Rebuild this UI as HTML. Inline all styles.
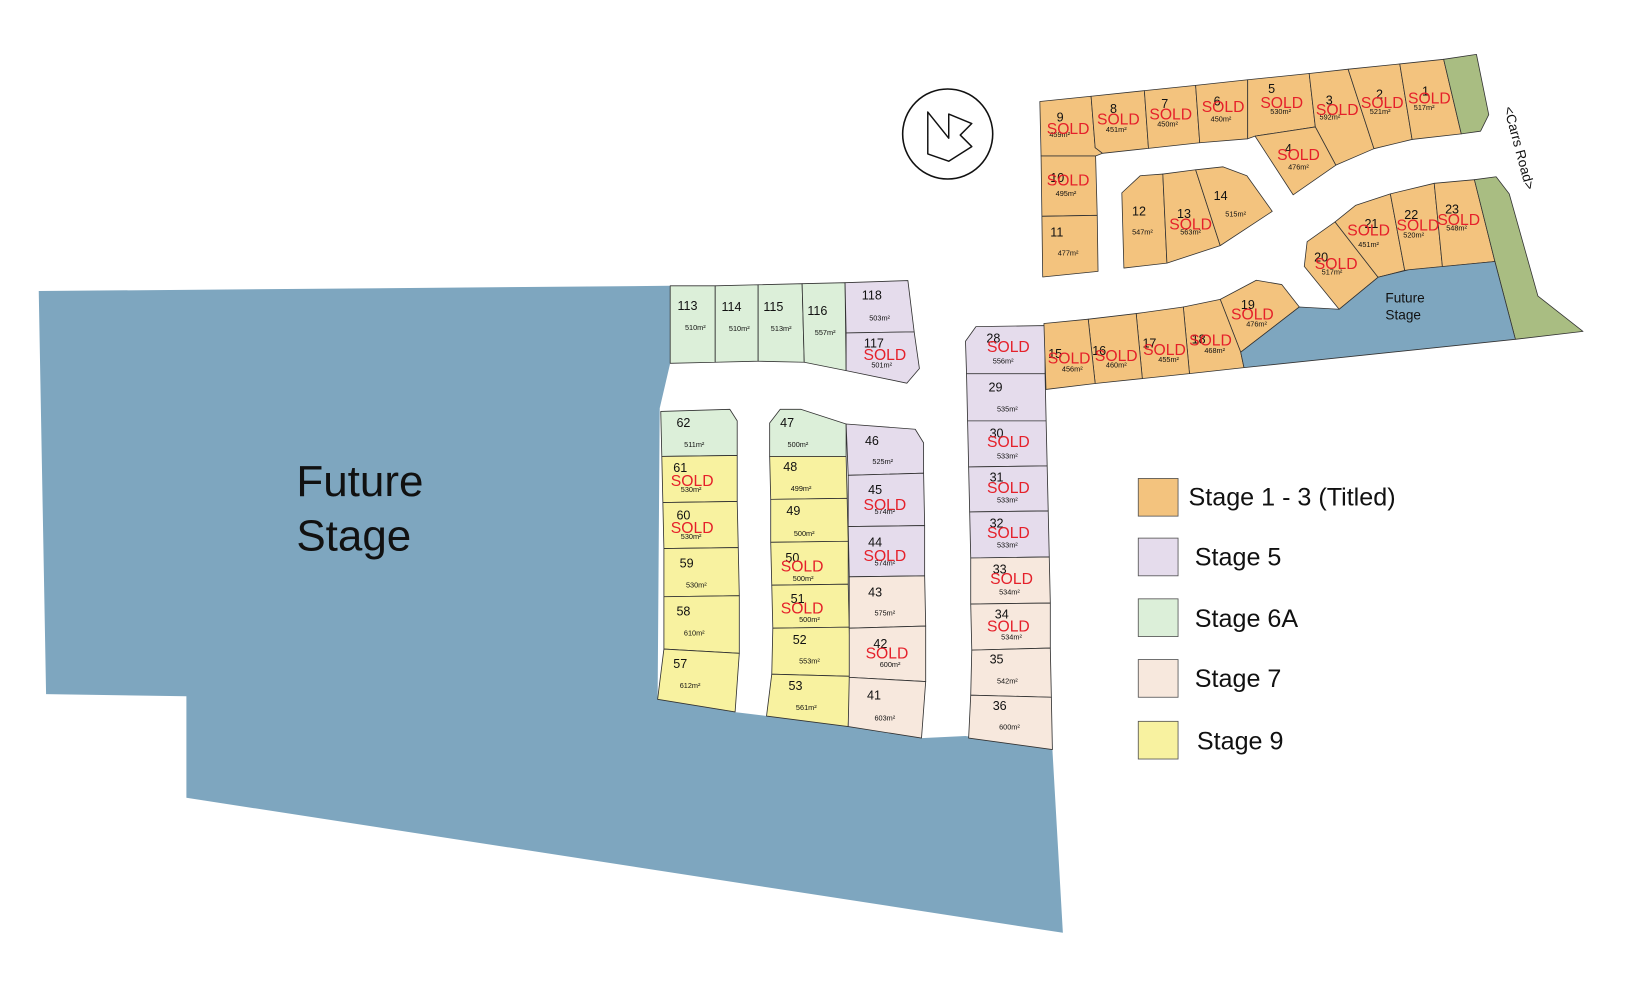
<!DOCTYPE html>
<html><head><meta charset="utf-8"><style>
html,body{margin:0;padding:0;background:#fff;}
svg{display:block;}
text{font-family:"Liberation Sans",sans-serif;}
.n{font-size:12px;fill:#111;}
.a{font-size:7px;fill:#111;text-anchor:middle;}
.s{font-size:15px;fill:#e5202a;text-anchor:middle;}
.L{font-size:24px;fill:#111;}
</style></head><body>
<svg width="1643" height="1004" viewBox="0 0 1569 959" preserveAspectRatio="none" xmlns="http://www.w3.org/2000/svg">
<g stroke="#333" stroke-width="0.8" stroke-linejoin="round">
<polygon fill="#7ea6bf" stroke="none" points="37,278 640,273 640,347 630,390 628,668 700,680 733,684 810,694 880,705 922,703 1005,716 1015,891 178,762 178,665 44,663"/>
<polygon fill="#dcefd9" points="640,273 683,273 683,346 640,347"/>
<polygon fill="#dcefd9" points="683,273 724,272 724,345 683,346"/>
<polygon fill="#dcefd9" points="724,272 766,271 768,346 724,345"/>
<polygon fill="#dcefd9" points="766,271 807,270 808,354 768,346"/>
<polygon fill="#e5dcec" points="807,270 867,268 873,317 808,318"/>
<polygon fill="#e5dcec" points="808,318 873,317 878,352 866,366 808,354"/>
<polygon fill="#dcefd9" points="631,393 697,391 704,402 704,435 632,436"/>
<polygon fill="#f8f2a0" points="632,436 704,435 704,479 633,480"/>
<polygon fill="#f8f2a0" points="633,480 704,479 705,523 634,524"/>
<polygon fill="#f8f2a0" points="634,524 705,523 706,569 634,570"/>
<polygon fill="#f8f2a0" points="634,570 706,569 706,624 634,620"/>
<polygon fill="#f8f2a0" points="634,620 706,624 702,680 628,668"/>
<polygon fill="#dcefd9" points="735,404 745,391 765,391 808,405 808,436 735,436"/>
<polygon fill="#f8f2a0" points="735,436 808,436 809,476 736,477"/>
<polygon fill="#f8f2a0" points="736,477 809,476 810,517 736,518"/>
<polygon fill="#f8f2a0" points="736,518 810,517 810,558 737,559"/>
<polygon fill="#f8f2a0" points="737,559 810,558 811,599 738,600"/>
<polygon fill="#f8f2a0" points="738,600 811,599 812,646 737,644"/>
<polygon fill="#f8f2a0" points="737,644 812,646 810,694 732,684"/>
<polygon fill="#e5dcec" points="808,405 874,410 882,423 882,452 810,454"/>
<polygon fill="#e5dcec" points="810,454 882,452 883,502 810,503"/>
<polygon fill="#e5dcec" points="810,503 883,502 883,550 811,551"/>
<polygon fill="#f7e8dd" points="811,551 883,550 884,598 811,600"/>
<polygon fill="#f7e8dd" points="811,600 884,598 884,651 811,647"/>
<polygon fill="#f7e8dd" points="811,647 884,651 880,705 810,694"/>
<polygon fill="#e5dcec" points="922,326 932,312 998,311 998,357 923,357"/>
<polygon fill="#e5dcec" points="923,357 998,357 999,402 924,402"/>
<polygon fill="#e5dcec" points="924,402 999,402 1000,445 925,446"/>
<polygon fill="#e5dcec" points="925,446 1000,445 1001,488 926,489"/>
<polygon fill="#e5dcec" points="926,489 1001,488 1002,532 927,533"/>
<polygon fill="#f7e8dd" points="927,533 1002,532 1003,576 927,577"/>
<polygon fill="#f7e8dd" points="927,577 1003,576 1003,619 928,621"/>
<polygon fill="#f7e8dd" points="928,621 1003,619 1004,666 927,664"/>
<polygon fill="#f7e8dd" points="927,664 1004,666 1005,716 925,705"/>
</g>
<g transform="matrix(0.3915 0 0 0.315 953.85 38.7)" stroke="#333" stroke-width="0.8" stroke-linejoin="round">
<g fill="#f3c37e">
<polygon vector-effect="non-scaling-stroke" points="100,185 225,169 235,325 253,342 236,350 103,350"/>
<polygon vector-effect="non-scaling-stroke" points="225,169 355,152 365,327 253,342 235,325"/>
<polygon vector-effect="non-scaling-stroke" points="355,152 480,136 490,310 365,327"/>
<polygon vector-effect="non-scaling-stroke" points="480,136 607,119 607,298 490,310"/>
<polygon vector-effect="non-scaling-stroke" points="607,119 757,100 772,262 625,290 607,298"/>
<polygon vector-effect="non-scaling-stroke" points="757,100 852,87 915,328 822,378 772,262"/>
<polygon vector-effect="non-scaling-stroke" points="852,87 978,71 1008,300 915,328"/>
<polygon vector-effect="non-scaling-stroke" points="978,71 1085,57 1128,283 1008,300"/>
<polygon vector-effect="non-scaling-stroke" points="625,290 772,262 822,378 718,468"/>
<polygon vector-effect="non-scaling-stroke" points="103,350 236,350 240,530 105,533"/>
<polygon vector-effect="non-scaling-stroke" points="105,533 240,530 242,700 107,717"/>
<polygon vector-effect="non-scaling-stroke" points="300,462 345,410 400,405 410,675 305,690"/>
<polygon vector-effect="non-scaling-stroke" points="400,405 480,392 540,622 410,675"/>
<polygon vector-effect="non-scaling-stroke" points="480,392 547,383 605,410 667,518 540,622"/>
<polygon vector-effect="non-scaling-stroke" points="745,685 752,610 820,550 925,718 830,815"/>
<polygon vector-effect="non-scaling-stroke" points="820,550 870,500 955,465 990,697 925,718"/>
<polygon vector-effect="non-scaling-stroke" points="955,465 1062,433 1082,686 990,697"/>
<polygon vector-effect="non-scaling-stroke" points="1062,433 1160,422 1210,670 1082,686"/>
<polygon vector-effect="non-scaling-stroke" points="540,785 628,727 690,740 733,808 590,945"/>
<polygon vector-effect="non-scaling-stroke" points="450,808 540,785 590,945 598,992 465,1010"/>
<polygon vector-effect="non-scaling-stroke" points="335,828 450,808 465,1010 350,1025"/>
<polygon vector-effect="non-scaling-stroke" points="218,845 335,828 350,1025 235,1040"/>
<polygon vector-effect="non-scaling-stroke" points="110,858 218,845 235,1040 115,1058"/>
</g>
<polygon fill="#a9bd82" vector-effect="non-scaling-stroke" points="1085,57 1165,42 1195,225 1175,275 1128,283"/>
<polygon fill="#a9bd82" vector-effect="non-scaling-stroke" points="1160,422 1213,413 1245,465 1315,775 1425,882 1260,906 1210,670"/>
<polygon fill="#7ea6bf" vector-effect="non-scaling-stroke" points="590,945 733,808 830,815 925,718 1000,695 1210,670 1260,906 598,992"/>
</g>
<circle cx="905" cy="128" r="43" fill="#fff" stroke="#111" stroke-width="1.5"/>
<path d="M886,147 L886,107 L906,132 L906,109 L928,118 L917,129 L928,140 L906,154 Z" fill="none" stroke="#111" stroke-width="1.4" stroke-linejoin="round"/>
<text x="1436" y="103" font-size="13" transform="rotate(75 1436 103)" fill="#111">&lt;Carrs Road&gt;</text>
<text x="283" y="474" font-size="42" fill="#111">Future</text>
<text x="283" y="526" font-size="42" fill="#111">Stage</text>
<text x="1323" y="289" font-size="13" fill="#111">Future</text>
<text x="1323" y="305" font-size="13" fill="#111">Stage</text>
<g stroke="#555" stroke-width="0.8">
<rect x="1087" y="457" width="38" height="36" fill="#f3c37e"/>
<rect x="1087" y="514" width="38" height="36" fill="#e5dcec"/>
<rect x="1087" y="572" width="38" height="36" fill="#dcefd9"/>
<rect x="1087" y="630" width="38" height="36" fill="#f7e8dd"/>
<rect x="1087" y="689" width="38" height="36" fill="#f8f2a0"/>
</g>
<text class="L" x="1135" y="483">Stage 1 - 3 (Titled)</text>
<text class="L" x="1141" y="540">Stage 5</text>
<text class="L" x="1141" y="599">Stage 6A</text>
<text class="L" x="1141" y="656">Stage 7</text>
<text class="L" x="1143" y="716">Stage 9</text>
<g class="n">
<text class="n" x="1009" y="116">9</text><text class="n" x="1060" y="108">8</text><text class="n" x="1109" y="103">7</text><text class="n" x="1159" y="101">6</text><text class="n" x="1211" y="89">5</text><text class="n" x="1266" y="100">3</text><text class="n" x="1314" y="94">2</text><text class="n" x="1358" y="91">1</text><text class="n" x="1227" y="146">4</text>
<text class="n" x="1003" y="174">10</text><text class="n" x="1003" y="226">11</text><text class="n" x="1081" y="206">12</text><text class="n" x="1124" y="208">13</text><text class="n" x="1159" y="191">14</text>
<text class="n" x="1255" y="250">20</text><text class="n" x="1303" y="218">21</text><text class="n" x="1341" y="209">22</text><text class="n" x="1380" y="204">23</text>
<text class="n" x="1185" y="295">19</text><text class="n" x="1138" y="328">18</text><text class="n" x="1091" y="332">17</text><text class="n" x="1043" y="339">16</text><text class="n" x="1001" y="342">15</text>
<text class="n" x="942" y="327">28</text><text class="n" x="944" y="374">29</text><text class="n" x="945" y="418">30</text><text class="n" x="945" y="460">31</text><text class="n" x="945" y="504">32</text><text class="n" x="948" y="548">33</text><text class="n" x="950" y="591">34</text><text class="n" x="945" y="634">35</text><text class="n" x="948" y="678">36</text>
<text class="n" x="823" y="286">118</text><text class="n" x="825" y="332">117</text><text class="n" x="647" y="296">113</text><text class="n" x="689" y="297">114</text><text class="n" x="729" y="297">115</text><text class="n" x="771" y="301">116</text>
<text class="n" x="646" y="408">62</text><text class="n" x="643" y="451">61</text><text class="n" x="646" y="496">60</text><text class="n" x="649" y="542">59</text><text class="n" x="646" y="588">58</text><text class="n" x="643" y="638">57</text>
<text class="n" x="745" y="408">47</text><text class="n" x="748" y="450">48</text><text class="n" x="751" y="492">49</text><text class="n" x="750" y="537">50</text><text class="n" x="755" y="576">51</text><text class="n" x="757" y="615">52</text><text class="n" x="753" y="659">53</text>
<text class="n" x="826" y="425">46</text><text class="n" x="829" y="472">45</text><text class="n" x="829" y="522">44</text><text class="n" x="829" y="570">43</text><text class="n" x="834" y="619">42</text><text class="n" x="828" y="668">41</text>
</g>
<g>
<text class="a" x="1012" y="131">459m²</text><text class="a" x="1066" y="126">451m²</text><text class="a" x="1115" y="121">450m²</text><text class="a" x="1166" y="116">450m²</text><text class="a" x="1223" y="109">530m²</text><text class="a" x="1270" y="114">592m²</text><text class="a" x="1318" y="109">521m²</text><text class="a" x="1360" y="105">517m²</text><text class="a" x="1240" y="162">476m²</text>
<text class="a" x="1018" y="187">495m²</text><text class="a" x="1020" y="244">477m²</text><text class="a" x="1091" y="224">547m²</text><text class="a" x="1137" y="224">563m²</text><text class="a" x="1180" y="207">515m²</text>
<text class="a" x="1272" y="262">517m²</text><text class="a" x="1307" y="236">451m²</text><text class="a" x="1350" y="227">520m²</text><text class="a" x="1391" y="220">548m²</text>
<text class="a" x="1200" y="312">476m²</text><text class="a" x="1160" y="337">468m²</text><text class="a" x="1116" y="346">455m²</text><text class="a" x="1066" y="351">460m²</text><text class="a" x="1024" y="355">456m²</text>
<text class="a" x="958" y="347">556m²</text><text class="a" x="962" y="393">535m²</text><text class="a" x="962" y="438">533m²</text><text class="a" x="962" y="480">533m²</text><text class="a" x="962" y="523">533m²</text><text class="a" x="964" y="568">534m²</text><text class="a" x="966" y="611">534m²</text><text class="a" x="962" y="653">542m²</text><text class="a" x="964" y="697">600m²</text>
<text class="a" x="840" y="306">503m²</text><text class="a" x="842" y="351">501m²</text><text class="a" x="664" y="315">510m²</text><text class="a" x="706" y="316">510m²</text><text class="a" x="746" y="316">513m²</text><text class="a" x="788" y="320">557m²</text>
<text class="a" x="663" y="427">511m²</text><text class="a" x="660" y="470">530m²</text><text class="a" x="660" y="515">530m²</text><text class="a" x="665" y="561">530m²</text><text class="a" x="663" y="607">610m²</text><text class="a" x="659" y="657">612m²</text>
<text class="a" x="762" y="427">500m²</text><text class="a" x="765" y="469">499m²</text><text class="a" x="768" y="512">500m²</text><text class="a" x="767" y="555">500m²</text><text class="a" x="773" y="594">500m²</text><text class="a" x="773" y="634">553m²</text><text class="a" x="770" y="678">561m²</text>
<text class="a" x="843" y="443">525m²</text><text class="a" x="845" y="491">574m²</text><text class="a" x="845" y="540">574m²</text><text class="a" x="845" y="588">575m²</text><text class="a" x="850" y="637">600m²</text><text class="a" x="845" y="688">603m²</text>
</g>
<g>
<text class="s" x="1020" y="128">SOLD</text><text class="s" x="1068" y="119">SOLD</text><text class="s" x="1118" y="114">SOLD</text><text class="s" x="1168" y="107">SOLD</text><text class="s" x="1224" y="103">SOLD</text><text class="s" x="1277" y="110">SOLD</text><text class="s" x="1320" y="103">SOLD</text><text class="s" x="1365" y="99">SOLD</text><text class="s" x="1240" y="153">SOLD</text>
<text class="s" x="1020" y="177">SOLD</text><text class="s" x="1137" y="219">SOLD</text>
<text class="s" x="1276" y="257">SOLD</text><text class="s" x="1307" y="225">SOLD</text><text class="s" x="1354" y="220">SOLD</text><text class="s" x="1393" y="215">SOLD</text>
<text class="s" x="1196" y="305">SOLD</text><text class="s" x="1156" y="330">SOLD</text><text class="s" x="1112" y="339">SOLD</text><text class="s" x="1066" y="345">SOLD</text><text class="s" x="1021" y="347">SOLD</text>
<text class="s" x="963" y="336">SOLD</text><text class="s" x="963" y="427">SOLD</text><text class="s" x="963" y="471">SOLD</text><text class="s" x="963" y="514">SOLD</text><text class="s" x="966" y="558">SOLD</text><text class="s" x="963" y="603">SOLD</text>
<text class="s" x="845" y="344">SOLD</text>
<text class="s" x="661" y="464">SOLD</text><text class="s" x="661" y="509">SOLD</text>
<text class="s" x="766" y="546">SOLD</text><text class="s" x="766" y="586">SOLD</text>
<text class="s" x="845" y="487">SOLD</text><text class="s" x="845" y="536">SOLD</text><text class="s" x="847" y="629">SOLD</text>
</g>
</svg>
</body></html>
